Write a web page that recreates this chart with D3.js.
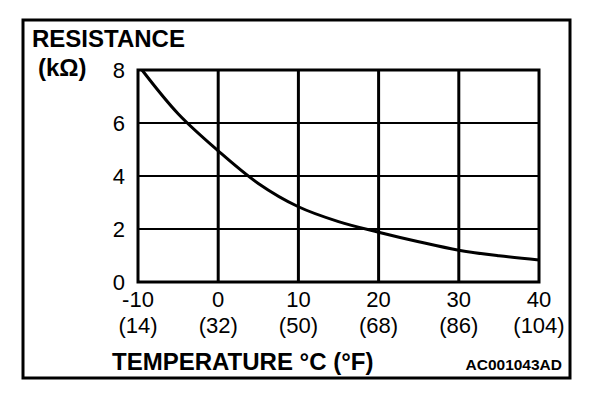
<!DOCTYPE html>
<html>
<head>
<meta charset="utf-8">
<script src="https://cdn.jsdelivr.net/npm/d3@7"></script>
<style>
  body { margin: 0; background: #fff; }
  svg { display: block; }
  text { font-family: "Liberation Sans", Arial, Helvetica, sans-serif; fill: #000; }
</style>
</head>
<body>
<div id="chart"></div>
<script>
// curve: temperature (°C) vs resistance (kOhm)
var tempC = [-9.5, -5, 0, 5, 10, 15, 20, 25, 30, 35, 40];
var resistance = [8.0, 6.35, 4.95, 3.72, 2.84, 2.28, 1.88, 1.52, 1.2, 0.99, 0.83];

// tick labels
var xTicks = [-10, 0, 10, 20, 30, 40];
var xTicksF = ["(14)", "(32)", "(50)", "(68)", "(86)", "(104)"];
var yTicks = [0, 2, 4, 6, 8];

var width = 608, height = 394;
var margin = {top: 70, right: 69, bottom: 112, left: 138};

var svg = d3.select("#chart").append("svg")
    .attr("width", width)
    .attr("height", height);

var x = d3.scaleLinear().domain([-10, 40]).range([margin.left, width - margin.right]);
var y = d3.scaleLinear().domain([0, 8]).range([height - margin.bottom, margin.top]);

// outer frame
svg.append("rect")
    .attr("x", 23).attr("y", 20)
    .attr("width", 547).attr("height", 358)
    .attr("fill", "none")
    .attr("stroke", "#000")
    .attr("stroke-width", 3);

// grid
svg.append("g").selectAll("line")
    .data(yTicks.slice(1, -1))
    .enter().append("line")
    .attr("x1", x(-10)).attr("x2", x(40))
    .attr("y1", function(d) { return y(d); })
    .attr("y2", function(d) { return y(d); })
    .attr("stroke", "#000")
    .attr("stroke-width", 2);

svg.append("g").selectAll("line")
    .data(xTicks.slice(1, -1))
    .enter().append("line")
    .attr("x1", function(d) { return x(d); })
    .attr("x2", function(d) { return x(d); })
    .attr("y1", y(0)).attr("y2", y(8))
    .attr("stroke", "#000")
    .attr("stroke-width", 3);

// plot border
svg.append("rect")
    .attr("x", x(-10)).attr("y", y(8))
    .attr("width", x(40) - x(-10))
    .attr("height", y(0) - y(8))
    .attr("fill", "none")
    .attr("stroke", "#000")
    .attr("stroke-width", 3);

// the curve
var line = d3.line()
    .x(function(d, i) { return x(tempC[i]); })
    .y(function(d) { return y(d); })
    .curve(d3.curveCatmullRom);

svg.append("path")
    .datum(resistance)
    .attr("d", line)
    .attr("fill", "none")
    .attr("stroke", "#000")
    .attr("stroke-width", 3);

// y tick labels
svg.append("g").selectAll("text")
    .data(yTicks)
    .enter().append("text")
    .attr("x", 125)
    .attr("y", function(d) { return y(d); })
    .attr("dy", "0.36em")
    .attr("text-anchor", "end")
    .style("font-size", "22px")
    .text(function(d) { return d; });

// x tick labels, celsius and fahrenheit
svg.append("g").selectAll("text")
    .data(xTicks)
    .enter().append("text")
    .attr("x", function(d) { return x(d); })
    .attr("y", 307)
    .attr("text-anchor", "middle")
    .style("font-size", "22px")
    .text(function(d) { return d; });

svg.append("g").selectAll("text")
    .data(xTicksF)
    .enter().append("text")
    .attr("x", function(d, i) { return x(xTicks[i]); })
    .attr("y", 333)
    .attr("text-anchor", "middle")
    .style("font-size", "22px")
    .text(function(d) { return d; });

// titles
svg.append("text")
    .attr("x", 32).attr("y", 47)
    .style("font-size", "24px").style("font-weight", "bold")
    .text("RESISTANCE");

svg.append("text")
    .attr("x", 38).attr("y", 76)
    .style("font-size", "24px").style("font-weight", "bold")
    .text("(k\u03A9)");

svg.append("text")
    .attr("x", 112).attr("y", 370)
    .style("font-size", "24px").style("font-weight", "bold")
    .text("TEMPERATURE \u00B0C (\u00B0F)");

svg.append("text")
    .attr("x", 562).attr("y", 370)
    .attr("text-anchor", "end")
    .style("font-size", "15.5px").style("font-weight", "bold")
    .text("AC001043AD");
</script>
</body>
</html>
